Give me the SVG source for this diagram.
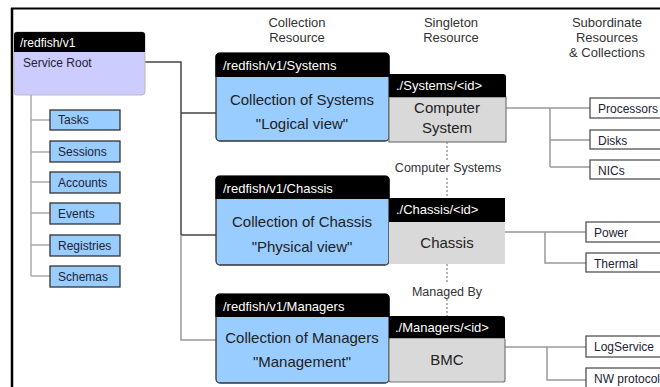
<svg xmlns="http://www.w3.org/2000/svg" width="660" height="387" viewBox="0 0 660 387">
<style>
  text{font-family:"Liberation Sans",Arial,sans-serif;fill:#222}
  .hdr{fill:#fff;font-size:13px}
  .hdrs{fill:#fff;font-size:12px}
  .col{font-size:13px;fill:#333;text-anchor:middle}
  .main{font-size:15px;text-anchor:middle}
  .child{fill:#99ccff;stroke:#333;stroke-width:1.3}
  .ct{font-size:12px;fill:#223}
  .sub{fill:#fff;stroke:#444;stroke-width:1.2}
  .coll{fill:#99ccff;stroke:#333;stroke-width:1.3}
  .sing{fill:#d9d9d9;stroke:#777;stroke-width:1.2}
  .blk{fill:#000}
  .c-dark{fill:none;stroke:#444;stroke-width:1.5}
  .c-gray{fill:none;stroke:#999;stroke-width:1.5}
  .c-light{fill:none;stroke:#aaa;stroke-width:1.5}
  .c-dot{fill:none;stroke:#888;stroke-width:1.2;stroke-dasharray:2 2}
  .lbl{font-size:12.5px;fill:#333;text-anchor:middle}
</style>

<!-- frame -->
<g id="frame">
  <line x1="11" y1="8.5" x2="660" y2="8.5" stroke="#000" stroke-width="2"/>
  <line x1="12" y1="8" x2="12" y2="387" stroke="#000" stroke-width="2.5"/>
</g>

<!-- column headers -->
<g id="headers">
  <text class="col" x="297" y="27">Collection</text>
  <text class="col" x="297" y="42">Resource</text>
  <text class="col" x="451" y="27">Singleton</text>
  <text class="col" x="451" y="42">Resource</text>
  <text class="col" x="607" y="27">Subordinate</text>
  <text class="col" x="607" y="42">Resources</text>
  <text class="col" x="607" y="57">&amp; Collections</text>
</g>

<!-- connectors -->
<g id="connectors">
  <path class="c-dark" d="M145,62 H181 V235 M181,113 H216 M181,235 H216"/>
  <path class="c-gray" d="M181,235 V340 H216"/>
  <path class="c-light" d="M31,95 V276 M31,120 H50 M31,152 H50 M31,182 H50 M31,213 H50 M31,245 H50 M31,276 H50"/>
  <path class="c-gray" d="M506,108 H590 M550,108 V167 M550,140 H590 M550,167 H590"/>
  <path class="c-gray" d="M505,232 H586 M545,232 V263 H586"/>
  <path class="c-gray" d="M505,347 H586 M547,347 V380 H586"/>
  <path class="c-dot" d="M447,142 V160 M447,178 V198 M447,264 V284 M447,299 V316"/>
  <text class="lbl" x="448" y="172">Computer Systems</text>
  <text class="lbl" x="447" y="296">Managed By</text>
</g>

<!-- service root -->
<g id="service-root">
  <rect x="14" y="32" width="131" height="63" rx="3" fill="#ccccff" stroke="#bbb" stroke-width="1"/>
  <path class="blk" d="M14,52 V35 a3,3 0 0 1 3,-3 H142 a3,3 0 0 1 3,3 V52 Z"/>
  <text class="hdrs" x="20" y="47">/redfish/v1</text>
  <text class="ct" x="23" y="67">Service Root</text>
</g>

<!-- children of service root -->
<g id="tasks"><rect class="child" x="50" y="110" width="70" height="20"/><text class="ct" x="58" y="124">Tasks</text></g>
<g id="sessions"><rect class="child" x="50" y="141" width="70" height="21"/><text class="ct" x="58" y="156">Sessions</text></g>
<g id="accounts"><rect class="child" x="50" y="172" width="70" height="21"/><text class="ct" x="58" y="187">Accounts</text></g>
<g id="events"><rect class="child" x="50" y="203" width="70" height="21"/><text class="ct" x="58" y="218">Events</text></g>
<g id="registries"><rect class="child" x="50" y="235" width="70" height="21"/><text class="ct" x="58" y="250">Registries</text></g>
<g id="schemas"><rect class="child" x="50" y="266" width="70" height="21"/><text class="ct" x="58" y="281">Schemas</text></g>

<!-- Systems collection -->
<g id="systems-collection">
  <rect class="coll" x="216" y="53" width="173" height="88" rx="4"/>
  <path class="blk" d="M215.4,77 V57 a4,4 0 0 1 4,-4 H385.6 a4,4 0 0 1 4,4 V77 Z"/>
  <text class="hdr" x="223" y="70">/redfish/v1/Systems</text>
  <text class="main" x="302" y="105">Collection of Systems</text>
  <text class="main" x="302" y="129">"Logical view"</text>
</g>
<g id="systems-singleton">
  <rect class="sing" x="389" y="97" width="117" height="45"/>
  <path class="blk" d="M389,97 V74 H503 a3,3 0 0 1 3,3 V97 Z"/>
  <text class="hdr" x="396" y="90">./Systems/&lt;id&gt;</text>
  <text class="main" x="447" y="113">Computer</text>
  <text class="main" x="447" y="133">System</text>
</g>

<!-- Chassis collection -->
<g id="chassis-collection">
  <rect class="coll" x="216" y="176" width="173" height="89" rx="4"/>
  <path class="blk" d="M215.4,199 V180 a4,4 0 0 1 4,-4 H385.6 a4,4 0 0 1 4,4 V199 Z"/>
  <text class="hdr" x="223" y="193">/redfish/v1/Chassis</text>
  <text class="main" x="302" y="227">Collection of Chassis</text>
  <text class="main" x="302" y="252">"Physical view"</text>
</g>
<g id="chassis-singleton">
  <rect x="389" y="222" width="116" height="42" fill="#d9d9d9"/>
  <path class="blk" d="M389,222 V198 H505 V222 Z"/>
  <text class="hdr" x="396" y="214">./Chassis/&lt;id&gt;</text>
  <text class="main" x="447" y="248">Chassis</text>
</g>

<!-- Managers collection -->
<g id="managers-collection">
  <rect class="coll" x="216" y="294" width="173" height="89" rx="4"/>
  <path class="blk" d="M215.4,317 V298 a4,4 0 0 1 4,-4 H385.6 a4,4 0 0 1 4,4 V317 Z"/>
  <text class="hdr" x="223" y="311">/redfish/v1/Managers</text>
  <text class="main" x="302" y="343">Collection of Managers</text>
  <text class="main" x="302" y="367">"Management"</text>
</g>
<g id="managers-singleton">
  <rect class="sing" x="389" y="338" width="116" height="44" rx="2"/>
  <path class="blk" d="M389,338 V316 H502 a3,3 0 0 1 3,3 V338 Z"/>
  <text class="hdr" x="395" y="332">./Managers/&lt;id&gt;</text>
  <text class="main" x="447" y="365">BMC</text>
</g>

<!-- subordinate resources -->
<g id="processors"><rect class="sub" x="590" y="98" width="80" height="20"/><text class="ct" x="598" y="113">Processors</text></g>
<g id="disks"><rect class="sub" x="590" y="130" width="80" height="19"/><text class="ct" x="598" y="145">Disks</text></g>
<g id="nics"><rect class="sub" x="590" y="160" width="80" height="19"/><text class="ct" x="598" y="175">NICs</text></g>
<g id="power"><rect class="sub" x="586" y="222" width="84" height="20"/><text class="ct" x="594" y="237">Power</text></g>
<g id="thermal"><rect class="sub" x="586" y="253" width="84" height="19"/><text class="ct" x="594" y="268">Thermal</text></g>
<g id="logservice"><rect class="sub" x="586" y="336" width="84" height="21"/><text class="ct" x="594" y="351">LogService</text></g>
<g id="nw-protocol"><rect class="sub" x="586" y="368" width="84" height="25"/><text class="ct" x="594" y="383">NW protocol</text></g>
</svg>
